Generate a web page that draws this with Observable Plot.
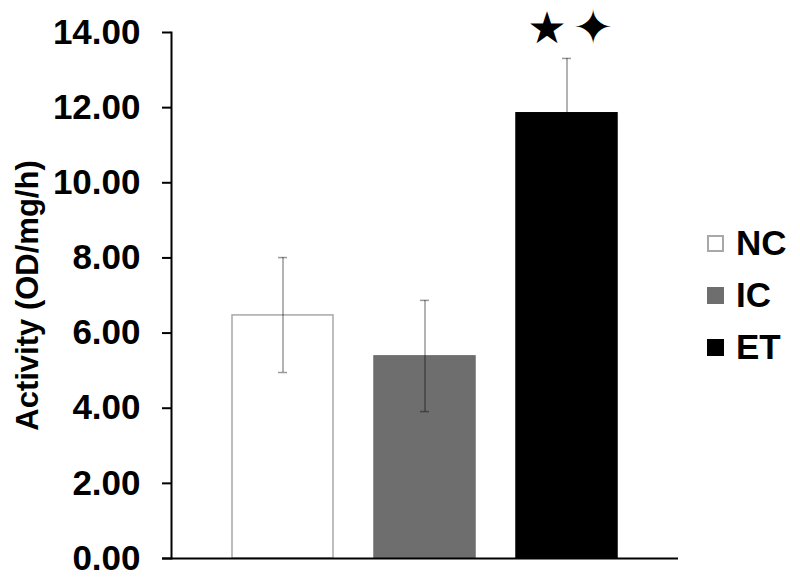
<!DOCTYPE html>
<html>
<head>
<meta charset="utf-8">
<script src="https://cdn.jsdelivr.net/npm/d3@7"></script>
<script src="https://cdn.jsdelivr.net/npm/@observablehq/plot@0.6"></script>
<style>
  html, body { margin: 0; padding: 0; background: #fff; }
  #wrap { position: relative; width: 800px; height: 583px; font-family: "Liberation Sans", Arial, sans-serif; }
  #legend { position: absolute; left: 707px; top: 226px; display: flex; flex-direction: column; gap: 18px; }
  .item { display: flex; align-items: center; height: 34px; font-weight: bold; font-size: 35px; color: #000; }
  .sw { width: 17px; height: 17px; margin-right: 12px; box-sizing: border-box; }
</style>
</head>
<body>
<div id="wrap"></div>
<script>
const groups = ["NC", "IC", "ET"];
const means = [6.47, 5.38, 11.85];
const lower = [4.95, 3.91, 10.39];
const upper = [8.01, 6.87, 13.31];
const fills = ["#ffffff", "#6e6e6e", "#000000"];
const strokes = ["#a8a8a8", "#6e6e6e", "#000000"];
const yTicks = [0, 2, 4, 6, 8, 10, 12, 14];
const markers = ["★", "✦"];

const data = groups.map((g, i) => ({group: g, mean: means[i], lo: lower[i], hi: upper[i], fill: fills[i], stroke: strokes[i]}));
const et = data.filter(d => d.group === "ET");

const chart = Plot.plot({
  width: 800,
  height: 583,
  marginLeft: 171,
  marginRight: 122,
  marginTop: 32,
  marginBottom: 25,
  style: {fontFamily: "'Liberation Sans', Arial, sans-serif", background: "#fff", color: "#000", overflow: "visible"},
  x: {domain: groups, paddingInner: 0.29, paddingOuter: 0.43, axis: null},
  y: {domain: [0, 14], axis: null},
  marks: [
    Plot.barY(data, {x: "group", y: "mean", fill: "fill", stroke: "stroke", strokeWidth: 1.5}),
    Plot.ruleX(data, {x: "group", y1: "lo", y2: "hi", stroke: "#000", strokeOpacity: 0.4, strokeWidth: 1.5}),
    Plot.tickY(data, {x: "group", y: "hi", stroke: "#000", strokeOpacity: 0.4, strokeWidth: 1.5, insetLeft: 46, insetRight: 46}),
    Plot.tickY(data, {x: "group", y: "lo", stroke: "#000", strokeOpacity: 0.4, strokeWidth: 1.5, insetLeft: 46, insetRight: 46}),
    Plot.text(et, {x: "group", y: "hi", text: () => markers[0], dy: -30, dx: -20, fontSize: 44, fontFamily: "DejaVu Sans", fill: "#000"}),
    Plot.text(et, {x: "group", y: "hi", text: () => markers[1], dy: -30, dx: 26, fontSize: 48, fontFamily: "DejaVu Sans", fill: "#000"}),
    Plot.axisY({ticks: yTicks, tickFormat: d3.format(".2f"), tickSize: 9, tickPadding: 22, fontSize: 35, fontWeight: "bold", strokeWidth: 2, label: null}),
    Plot.axisY({ticks: [], tickSize: 0, label: "Activity (OD/mg/h)", labelAnchor: "center", labelArrow: "none", labelOffset: 156, fontSize: 31, fontWeight: "bold"}),
    Plot.frame({anchor: "left", stroke: "#000", strokeWidth: 2}),
    Plot.ruleY([0], {stroke: "#000", strokeWidth: 2, insetLeft: -9})
  ]
});

const wrap = document.getElementById("wrap");
wrap.appendChild(chart);

const legend = document.createElement("div");
legend.id = "legend";
groups.forEach((g, i) => {
  const item = document.createElement("div");
  item.className = "item";
  const sw = document.createElement("div");
  sw.className = "sw";
  sw.style.background = fills[i];
  sw.style.border = "2px solid " + strokes[i];
  const lab = document.createElement("span");
  lab.textContent = g;
  item.appendChild(sw);
  item.appendChild(lab);
  legend.appendChild(item);
});
wrap.appendChild(legend);
</script>
</body>
</html>
